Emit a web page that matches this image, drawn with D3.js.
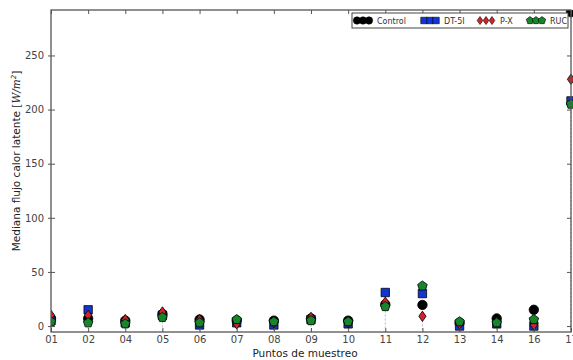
<!DOCTYPE html>
<html>
<head>
<meta charset="utf-8">
<script src="https://cdn.jsdelivr.net/npm/d3@7"></script>
<style>
  html, body { margin: 0; padding: 0; background: #fff; }
  svg { display: block; font-family: "DejaVu Sans", sans-serif; }
</style>
</head>
<body>
<svg id="chart" width="573" height="360"></svg>
<script>
// Sampling points (x categories)
const puntos = ["01","02","04","05","06","07","08","09","10","11","12","13","14","16","17"];

// Median latent heat flux per sampling point [W/m²]
const control = [7, 7, 5, 11, 6, 5, 5, 7, 5, 20, 19.5, 3, 7, 15, 290];
const dt5i    = [5, 15, 3, 10, 1, 3, 1, 6, 2, 31, 30, 0, 2, 0, 208];
const px      = [10, 10, 6, 13, 6, 2, 3, 8, 3, 22, 9, 2, 4, 1, 228];
const ruc     = [4, 3, 2, 8, 3, 6, 4, 5, 4, 18, 37, 4, 3, 6, 205];

const yTicks = [0, 50, 100, 150, 200, 250];

const seriesNames  = ["Control", "DT-5I", "P-X", "RUC"];
const seriesValues = [control, dt5i, px, ruc];
const seriesColors = ["#000000", "#1236d6", "#d2232b", "#17852a"];
const seriesShapes = ["circle", "square", "diamond", "pentagon"];

const svg = d3.select("#chart");
const mLeft = 51, mRight = 571, mTop = 10, mBottom = 332;

const x = d3.scalePoint().domain(puntos).range([mLeft, mRight]);
const y = d3.scaleLinear().domain([-5.5, 292]).range([mBottom, mTop]);

// clip region for the plot
svg.append("defs").append("clipPath").attr("id", "plotclip")
  .append("rect").attr("x", mLeft).attr("y", mTop).attr("width", mRight - mLeft + 6).attr("height", mBottom - mTop);

// faint dashed guides under each point group
const guides = svg.append("g").attr("clip-path", "url(#plotclip)");
puntos.forEach((p, i) => {
  const lo = d3.min(seriesValues, s => s[i]);
  guides.append("line")
    .attr("x1", x(p)).attr("x2", x(p))
    .attr("y1", y(lo)).attr("y2", mBottom)
    .attr("stroke", "#b8b8b8").attr("stroke-width", 1)
    .attr("stroke-dasharray", "2,2");
});

function symbolPath(shape, size) {
  if (shape === "circle") return d3.symbol(d3.symbolCircle, size)();
  if (shape === "square") return d3.symbol(d3.symbolSquare, size)();
  if (shape === "diamond") {
    const r = Math.sqrt(size) * 0.62;
    const w = r * 0.7;
    return `M0,${-r}L${w},0L0,${r}L${-w},0Z`;
  }
  // pentagon
  const r = Math.sqrt(size) * 0.6;
  const pts = d3.range(5).map(k => {
    const a = -Math.PI / 2 + k * 2 * Math.PI / 5;
    return [r * Math.cos(a), r * Math.sin(a)];
  });
  return "M" + pts.map(p => p.join(",")).join("L") + "Z";
}

// markers
const marks = svg.append("g").attr("clip-path", "url(#plotclip)");
seriesValues.forEach((vals, si) => {
  marks.append("g").selectAll("path").data(vals).join("path")
    .attr("transform", (d, i) => `translate(${x(puntos[i])},${y(d)})`)
    .attr("d", symbolPath(seriesShapes[si], 70))
    .attr("fill", seriesColors[si])
    .attr("stroke", "#000").attr("stroke-width", 0.8);
});

// frame
svg.append("rect").attr("x", mLeft).attr("y", mTop)
  .attr("width", mRight - mLeft).attr("height", mBottom - mTop)
  .attr("fill", "none").attr("stroke", "#555").attr("stroke-width", 1.3);

// axes with inward ticks
const axisColor = "#555";
const bottomAxis = svg.append("g").attr("transform", `translate(0,${mBottom})`)
  .call(d3.axisBottom(x).tickSizeInner(-4).tickSizeOuter(0).tickPadding(4));
const topAxis = svg.append("g").attr("transform", `translate(0,${mTop})`)
  .call(d3.axisTop(x).tickSizeInner(-4).tickSizeOuter(0).tickFormat(""));
const leftAxis = svg.append("g").attr("transform", `translate(${mLeft},0)`)
  .call(d3.axisLeft(y).tickValues(yTicks).tickSizeInner(-4).tickSizeOuter(0).tickPadding(5));
const rightAxis = svg.append("g").attr("transform", `translate(${mRight},0)`)
  .call(d3.axisRight(y).tickValues(yTicks).tickSizeInner(-4).tickSizeOuter(0).tickFormat(""));

[bottomAxis, topAxis, leftAxis, rightAxis].forEach(g => {
  g.select(".domain").remove();
  g.selectAll(".tick line").attr("stroke", axisColor);
  g.selectAll(".tick text").attr("fill", "#444").attr("font-size", 10)
    .attr("font-family", "DejaVu Sans, sans-serif");
});
// outer tick stubs on the left axis
leftAxis.selectAll(".tick").append("line").attr("x2", -3).attr("stroke", axisColor);
leftAxis.selectAll(".tick text").attr("x", -7);

// axis titles
svg.append("text").attr("x", 305).attr("y", 357)
  .attr("text-anchor", "middle").attr("font-size", 10.5).attr("fill", "#222")
  .text("Puntos de muestreo");

const yl = svg.append("text").attr("transform", "translate(20,161) rotate(-90)")
  .attr("text-anchor", "middle").attr("font-size", 10.5).attr("fill", "#222");
yl.append("tspan").text("Mediana flujo calor latente [");
yl.append("tspan").attr("font-style", "italic").attr("font-family", "DejaVu Serif, serif").text("W/m");
yl.append("tspan").attr("font-size", 7).attr("dy", -4).attr("font-style", "italic").text("2");
yl.append("tspan").attr("dy", 4).text("]");

// legend
const lg = svg.append("g");
lg.append("rect").attr("x", 352).attr("y", 13).attr("width", 216).attr("height", 15)
  .attr("fill", "#fff").attr("stroke", "#444").attr("stroke-width", 1);
const legendX = [363, 430, 486, 536];
seriesNames.forEach((name, si) => {
  [-6, 0, 6].forEach(dx => {
    lg.append("path")
      .attr("transform", `translate(${legendX[si] + dx},20.5)`)
      .attr("d", symbolPath(seriesShapes[si], 42))
      .attr("fill", seriesColors[si]).attr("stroke", "#000").attr("stroke-width", 0.6);
  });
  lg.append("text").attr("x", legendX[si] + 14).attr("y", 23.5)
    .attr("font-size", 8).attr("fill", "#333").text(name);
});
</script>
</body>
</html>
